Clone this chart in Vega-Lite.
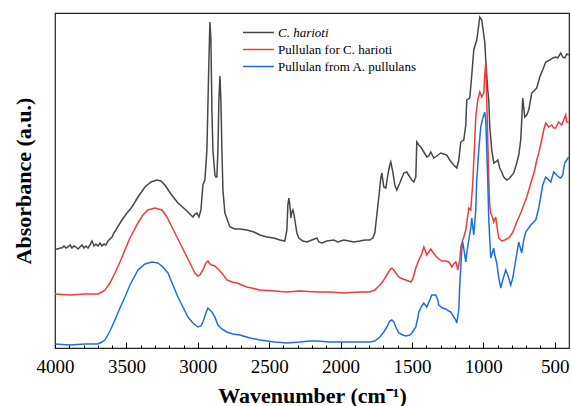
{
  "$schema": "https://vega.github.io/schema/vega-lite/v6.json",
  "autosize": {"type": "none"},
  "padding": {"left": 55, "top": 13, "right": 2, "bottom": 58},
  "width": 514,
  "height": 335,
  "background": "white",
  "config": {
    "view": {"stroke": "#222", "strokeWidth": 1.2},
    "font": "Liberation Serif"
  },
  "datasets": {
    "gray": [
      {"w":4000,"a":99},{"w":3979,"a":99},{"w":3965,"a":100},{"w":3951,"a":100},{"w":3937,"a":102},{"w":3923,"a":100},{"w":3909,"a":101},{"w":3895,"a":103},{"w":3881,"a":100},{"w":3867,"a":102},{"w":3853,"a":101},{"w":3839,"a":99},{"w":3825,"a":101},{"w":3811,"a":103},{"w":3797,"a":100},{"w":3783,"a":102},{"w":3769,"a":100},{"w":3755,"a":103},{"w":3741,"a":107},{"w":3727,"a":102},{"w":3713,"a":104},{"w":3699,"a":102},{"w":3685,"a":105},{"w":3671,"a":102},{"w":3657,"a":104},{"w":3643,"a":103},{"w":3629,"a":107},{"w":3615,"a":109},{"w":3601,"a":111},{"w":3587,"a":115},{"w":3573,"a":118},{"w":3566,"a":120},{"w":3531,"a":128},{"w":3496,"a":135},{"w":3461,"a":141},{"w":3419,"a":151},{"w":3370,"a":161},{"w":3328,"a":166},{"w":3286,"a":168},{"w":3258,"a":167},{"w":3230,"a":163},{"w":3188,"a":154},{"w":3139,"a":145},{"w":3083,"a":138},{"w":3034,"a":131},{"w":3020,"a":134},{"w":3006,"a":135},{"w":2992,"a":131},{"w":2978,"a":138},{"w":2964,"a":163},{"w":2950,"a":168},{"w":2936,"a":198},{"w":2922,"a":288},{"w":2915,"a":326},{"w":2908,"a":308},{"w":2901,"a":238},{"w":2894,"a":198},{"w":2880,"a":173},{"w":2873,"a":171},{"w":2866,"a":171},{"w":2859,"a":198},{"w":2852,"a":248},{"w":2845,"a":272},{"w":2838,"a":248},{"w":2831,"a":198},{"w":2824,"a":158},{"w":2810,"a":135},{"w":2775,"a":121},{"w":2740,"a":119},{"w":2705,"a":119},{"w":2656,"a":118},{"w":2607,"a":116},{"w":2565,"a":113},{"w":2516,"a":111},{"w":2467,"a":110},{"w":2425,"a":108},{"w":2390,"a":107},{"w":2376,"a":118},{"w":2369,"a":143},{"w":2362,"a":150},{"w":2355,"a":143},{"w":2348,"a":130},{"w":2341,"a":136},{"w":2334,"a":138},{"w":2327,"a":134},{"w":2320,"a":128},{"w":2306,"a":115},{"w":2292,"a":110},{"w":2264,"a":107},{"w":2236,"a":106},{"w":2201,"a":108},{"w":2166,"a":110},{"w":2152,"a":106},{"w":2131,"a":105},{"w":2096,"a":107},{"w":2047,"a":108},{"w":2019,"a":106},{"w":1977,"a":108},{"w":1942,"a":107},{"w":1907,"a":106},{"w":1865,"a":107},{"w":1830,"a":108},{"w":1795,"a":108},{"w":1774,"a":110},{"w":1760,"a":115},{"w":1746,"a":133},{"w":1732,"a":151},{"w":1718,"a":170},{"w":1711,"a":175},{"w":1704,"a":168},{"w":1697,"a":161},{"w":1683,"a":160},{"w":1669,"a":173},{"w":1655,"a":183},{"w":1648,"a":186},{"w":1634,"a":176},{"w":1620,"a":163},{"w":1606,"a":158},{"w":1585,"a":165},{"w":1557,"a":175},{"w":1536,"a":176},{"w":1515,"a":171},{"w":1501,"a":168},{"w":1487,"a":166},{"w":1473,"a":171},{"w":1466,"a":206},{"w":1452,"a":203},{"w":1438,"a":201},{"w":1417,"a":196},{"w":1396,"a":191},{"w":1382,"a":192},{"w":1368,"a":196},{"w":1347,"a":190},{"w":1326,"a":192},{"w":1298,"a":195},{"w":1277,"a":194},{"w":1256,"a":193},{"w":1235,"a":188},{"w":1207,"a":183},{"w":1186,"a":180},{"w":1172,"a":188},{"w":1158,"a":206},{"w":1137,"a":208},{"w":1123,"a":223},{"w":1116,"a":248},{"w":1095,"a":250},{"w":1081,"a":273},{"w":1067,"a":298},{"w":1046,"a":308},{"w":1032,"a":323},{"w":1025,"a":331},{"w":1011,"a":328},{"w":997,"a":313},{"w":990,"a":306},{"w":983,"a":288},{"w":969,"a":258},{"w":962,"a":248},{"w":955,"a":221},{"w":941,"a":198},{"w":927,"a":185},{"w":913,"a":186},{"w":899,"a":188},{"w":885,"a":180},{"w":871,"a":176},{"w":857,"a":171},{"w":836,"a":168},{"w":815,"a":170},{"w":787,"a":175},{"w":766,"a":185},{"w":752,"a":193},{"w":738,"a":208},{"w":731,"a":228},{"w":724,"a":250},{"w":710,"a":231},{"w":696,"a":233},{"w":682,"a":238},{"w":661,"a":255},{"w":640,"a":258},{"w":626,"a":260},{"w":605,"a":271},{"w":584,"a":278},{"w":563,"a":286},{"w":535,"a":288},{"w":514,"a":290},{"w":493,"a":291},{"w":479,"a":290},{"w":458,"a":295},{"w":444,"a":291},{"w":430,"a":290},{"w":416,"a":294},{"w":402,"a":293}
    ],
    "red": [
      {"w":4000,"a":54},{"w":3895,"a":53},{"w":3790,"a":54},{"w":3699,"a":54},{"w":3671,"a":56},{"w":3650,"a":58},{"w":3615,"a":65},{"w":3580,"a":75},{"w":3545,"a":86},{"w":3510,"a":98},{"w":3475,"a":110},{"w":3419,"a":125},{"w":3384,"a":133},{"w":3349,"a":138},{"w":3300,"a":140},{"w":3251,"a":138},{"w":3216,"a":131},{"w":3181,"a":121},{"w":3146,"a":111},{"w":3111,"a":101},{"w":3076,"a":91},{"w":3041,"a":81},{"w":3020,"a":75},{"w":2999,"a":72},{"w":2985,"a":73},{"w":2964,"a":78},{"w":2943,"a":85},{"w":2929,"a":87},{"w":2915,"a":84},{"w":2901,"a":83},{"w":2880,"a":82},{"w":2859,"a":79},{"w":2831,"a":75},{"w":2796,"a":68},{"w":2761,"a":66},{"w":2726,"a":65},{"w":2656,"a":61},{"w":2565,"a":58},{"w":2460,"a":57},{"w":2376,"a":56},{"w":2285,"a":57},{"w":2166,"a":56},{"w":2075,"a":56},{"w":1977,"a":55},{"w":1865,"a":56},{"w":1795,"a":56},{"w":1760,"a":58},{"w":1725,"a":63},{"w":1697,"a":68},{"w":1676,"a":73},{"w":1655,"a":78},{"w":1641,"a":80},{"w":1627,"a":78},{"w":1613,"a":75},{"w":1592,"a":71},{"w":1564,"a":69},{"w":1543,"a":68},{"w":1508,"a":66},{"w":1494,"a":69},{"w":1487,"a":73},{"w":1473,"a":80},{"w":1452,"a":88},{"w":1431,"a":94},{"w":1417,"a":101},{"w":1403,"a":96},{"w":1396,"a":93},{"w":1382,"a":96},{"w":1368,"a":99},{"w":1354,"a":96},{"w":1333,"a":92},{"w":1312,"a":89},{"w":1291,"a":87},{"w":1263,"a":87},{"w":1242,"a":86},{"w":1228,"a":83},{"w":1221,"a":81},{"w":1207,"a":84},{"w":1193,"a":86},{"w":1186,"a":83},{"w":1179,"a":78},{"w":1165,"a":88},{"w":1158,"a":101},{"w":1144,"a":108},{"w":1137,"a":111},{"w":1123,"a":118},{"w":1116,"a":125},{"w":1102,"a":140},{"w":1088,"a":138},{"w":1074,"a":165},{"w":1060,"a":208},{"w":1053,"a":231},{"w":1039,"a":248},{"w":1025,"a":256},{"w":1011,"a":251},{"w":997,"a":255},{"w":990,"a":273},{"w":983,"a":286},{"w":976,"a":248},{"w":969,"a":208},{"w":962,"a":168},{"w":955,"a":143},{"w":948,"a":135},{"w":934,"a":130},{"w":927,"a":126},{"w":913,"a":131},{"w":906,"a":123},{"w":892,"a":110},{"w":871,"a":107},{"w":850,"a":108},{"w":822,"a":110},{"w":801,"a":114},{"w":787,"a":118},{"w":766,"a":126},{"w":738,"a":135},{"w":717,"a":143},{"w":696,"a":151},{"w":675,"a":161},{"w":661,"a":168},{"w":640,"a":178},{"w":626,"a":188},{"w":612,"a":195},{"w":591,"a":208},{"w":577,"a":218},{"w":563,"a":225},{"w":542,"a":221},{"w":521,"a":223},{"w":507,"a":220},{"w":493,"a":220},{"w":472,"a":226},{"w":458,"a":224},{"w":451,"a":223},{"w":437,"a":228},{"w":423,"a":233},{"w":416,"a":226},{"w":402,"a":226}
    ],
    "blue": [
      {"w":4000,"a":4},{"w":3895,"a":3},{"w":3790,"a":4},{"w":3699,"a":4},{"w":3671,"a":6},{"w":3650,"a":8},{"w":3615,"a":17},{"w":3580,"a":28},{"w":3545,"a":40},{"w":3510,"a":51},{"w":3475,"a":63},{"w":3419,"a":78},{"w":3370,"a":84},{"w":3321,"a":86},{"w":3279,"a":85},{"w":3244,"a":81},{"w":3209,"a":75},{"w":3174,"a":63},{"w":3139,"a":51},{"w":3104,"a":41},{"w":3069,"a":31},{"w":3034,"a":25},{"w":2999,"a":21},{"w":2978,"a":22},{"w":2964,"a":26},{"w":2943,"a":35},{"w":2929,"a":40},{"w":2915,"a":38},{"w":2901,"a":36},{"w":2880,"a":31},{"w":2859,"a":23},{"w":2831,"a":19},{"w":2796,"a":16},{"w":2754,"a":14},{"w":2705,"a":13},{"w":2635,"a":10},{"w":2565,"a":8},{"w":2460,"a":6},{"w":2376,"a":5},{"w":2285,"a":6},{"w":2215,"a":7},{"w":2166,"a":7},{"w":2075,"a":6},{"w":1977,"a":6},{"w":1865,"a":6},{"w":1795,"a":6},{"w":1760,"a":7},{"w":1725,"a":11},{"w":1697,"a":16},{"w":1676,"a":21},{"w":1655,"a":27},{"w":1641,"a":28},{"w":1627,"a":26},{"w":1613,"a":21},{"w":1592,"a":15},{"w":1564,"a":13},{"w":1543,"a":12},{"w":1515,"a":13},{"w":1501,"a":15},{"w":1487,"a":18},{"w":1473,"a":21},{"w":1459,"a":30},{"w":1452,"a":36},{"w":1431,"a":42},{"w":1417,"a":45},{"w":1396,"a":41},{"w":1375,"a":48},{"w":1361,"a":53},{"w":1333,"a":53},{"w":1319,"a":48},{"w":1312,"a":43},{"w":1284,"a":40},{"w":1263,"a":39},{"w":1242,"a":37},{"w":1228,"a":36},{"w":1207,"a":31},{"w":1193,"a":28},{"w":1186,"a":25},{"w":1172,"a":38},{"w":1165,"a":63},{"w":1151,"a":98},{"w":1144,"a":106},{"w":1130,"a":93},{"w":1123,"a":86},{"w":1116,"a":95},{"w":1102,"a":108},{"w":1088,"a":120},{"w":1081,"a":130},{"w":1067,"a":113},{"w":1053,"a":138},{"w":1046,"a":168},{"w":1032,"a":198},{"w":1018,"a":221},{"w":1004,"a":230},{"w":990,"a":236},{"w":983,"a":228},{"w":976,"a":198},{"w":969,"a":168},{"w":962,"a":128},{"w":948,"a":90},{"w":927,"a":100},{"w":920,"a":93},{"w":906,"a":85},{"w":892,"a":70},{"w":878,"a":60},{"w":864,"a":68},{"w":843,"a":78},{"w":829,"a":73},{"w":808,"a":63},{"w":794,"a":70},{"w":773,"a":88},{"w":752,"a":106},{"w":731,"a":95},{"w":717,"a":108},{"w":703,"a":116},{"w":682,"a":120},{"w":668,"a":123},{"w":647,"a":126},{"w":633,"a":128},{"w":612,"a":140},{"w":598,"a":151},{"w":584,"a":163},{"w":563,"a":171},{"w":542,"a":168},{"w":528,"a":166},{"w":507,"a":176},{"w":486,"a":173},{"w":472,"a":171},{"w":458,"a":170},{"w":444,"a":173},{"w":430,"a":185},{"w":416,"a":188},{"w":402,"a":191}
    ]
  },
  "encoding": {
    "x": {
      "field": "w", "type": "quantitative",
      "scale": {"domain": [400, 4000], "reverse": true, "nice": false, "zero": false},
      "axis": {
        "title": "Wavenumber (cm⁻¹)",
        "titleFont": "Liberation Serif", "titleFontSize": 22, "titleFontWeight": "bold", "titleColor": "black", "titlePadding": 6,
        "values": [500,600,700,800,900,1000,1100,1200,1300,1400,1500,1600,1700,1800,1900,2000,2100,2200,2300,2400,2500,2600,2700,2800,2900,3000,3100,3200,3300,3400,3500,3600,3700,3800,3900,4000],
        "labelExpr": "datum.value % 500 == 0 ? datum.label : ''",
        "format": "d",
        "labelFont": "Liberation Serif", "labelFontSize": 19, "labelColor": "black", "labelPadding": 15,
        "labelFlush": false, "labelOverlap": false,
        "tickColor": "black", "tickWidth": 1,
        "tickSize": {"condition": {"test": "datum.value % 500 == 0", "value": -6}, "value": -3},
        "domain": false, "grid": false
      }
    },
    "y": {
      "field": "a", "type": "quantitative",
      "scale": {"domain": [0, 335], "nice": false, "zero": false},
      "axis": {
        "title": "Absorbance (a.u.)",
        "titleFont": "Liberation Serif", "titleFontSize": 22, "titleFontWeight": "bold", "titleColor": "black", "titlePadding": 20,
        "labels": false, "ticks": false, "domain": false, "grid": false
      }
    }
  },
  "layer": [
    {
      "data": {"name": "gray"},
      "mark": {"type": "line", "strokeWidth": 1.5},
      "encoding": {
        "color": {
          "datum": "C. harioti",
          "scale": {
            "domain": ["C. harioti", "Pullulan for C. harioti", "Pullulan from A. pullulans"],
            "range": ["#474747", "#EF3B3B", "#1E6EE0"]
          },
          "legend": {
            "title": null,
            "orient": "none", "legendX": 195, "legendY": 11,
            "padding": 0,
            "symbolType": "M-2,0H2", "symbolSize": 240, "symbolStrokeWidth": 1.5,
            "labelFont": "Liberation Serif", "labelFontSize": 13, "labelColor": "black",
            "labelOffset": 11, "rowPadding": 1,
            "encode": {
              "labels": {"update": {"fontStyle": {"signal": "datum.label == 'C. harioti' ? 'italic' : 'normal'"}}}
            }
          }
        }
      }
    },
    {
      "data": {"name": "red"},
      "mark": {"type": "line", "strokeWidth": 1.5},
      "encoding": {"color": {"datum": "Pullulan for C. harioti"}}
    },
    {
      "data": {"name": "blue"},
      "mark": {"type": "line", "strokeWidth": 1.5},
      "encoding": {"color": {"datum": "Pullulan from A. pullulans"}}
    }
  ]
}
